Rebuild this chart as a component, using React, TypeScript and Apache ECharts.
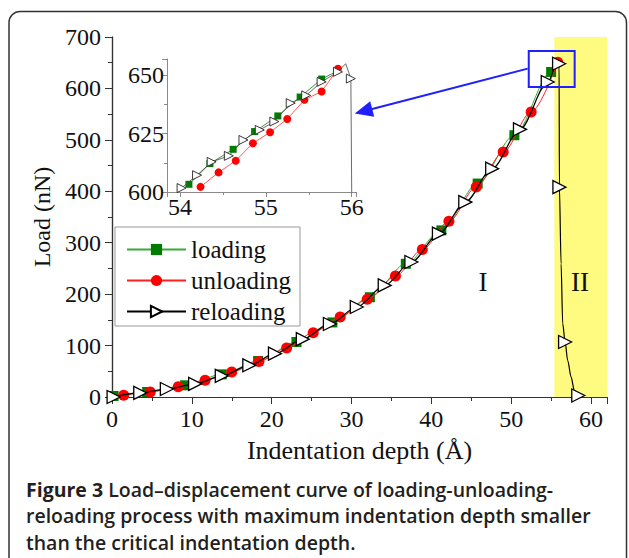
import React, { useEffect, useRef } from "react";
import * as echarts from "echarts";

type Pt = [number, number] | { value: [number, number]; symbol: string };

// Main chart data (x: indentation depth in Å, y: load in nN)
const loadingMain: Pt[] = [
  [0.2, 2], [4.4, 9.7], [9.16, 22.7], [13.75, 44], [18.3, 70], [23.1, 107],
  [27.6, 145], [32.3, 194], [36.8, 259], [41.25, 324], [45.8, 415], [50.4, 509],
  [55.0, 632], { value: [55.85, 652], symbol: "none" },
];
const unloadingMain: Pt[] = [
  [1.46, 3.3], [4.79, 9.7], [8.3, 19.8], [11.66, 32.5], [15.0, 48.6], [18.4, 69],
  [21.87, 95.3], [25.2, 125], [28.58, 155.6], [31.97, 190], [35.5, 235.3],
  [38.87, 286.6], [42.2, 341.6], [45.62, 408.3], [49.0, 476.4], [52.5, 554],
  [55.83, 651],
];
const reloadingMain: Pt[] = [
  [0.2, 0], [3.54, 8], [6.87, 15.5], [10.41, 25.5], [13.75, 41], [17.2, 61.6],
  [20.41, 84.3], [23.9, 112.5], [27.29, 142], [30.66, 175], [34.16, 217],
  [37.5, 262.5], [40.95, 317.7], [44.25, 379], [47.62, 444], [51.1, 520.5],
  [54.58, 612.5], { value: [55.93, 655], symbol: "none" }, [56.0, 648],
  [56.04, 408], { value: [56.25, 259], symbol: "none" },
  { value: [56.45, 143], symbol: "none" }, [56.75, 107],
  { value: [57.08, 71], symbol: "none" }, { value: [57.5, 39], symbol: "none" },
  { value: [57.9, 13], symbol: "none" }, [58.4, 3],
];

// Inset data (zoom of the maximum-load region)
const loadingInset: Pt[] = [
  [54.105, 603.3], [54.35, 612.2], [54.62, 618.3], [54.87, 625.9], [55.14, 632.6],
  [55.4, 640.7], [55.65, 648.4], { value: [55.84, 652], symbol: "none" },
];
const unloadingInset: Pt[] = [
  [54.24, 602.2], [54.45, 608.4], [54.65, 613.4], [54.85, 620.9], [55.05, 625.6],
  [55.25, 631.3], [55.45, 639.5], [55.65, 643.1], [55.84, 652.8],
];
const reloadingInset: Pt[] = [
  [54.02, 601.7], [54.2, 607.2], [54.37, 612.9], [54.57, 615.5], [54.74, 622.3],
  [54.93, 626.6], [55.1, 630.2], [55.29, 638.1], [55.47, 641.4], [55.65, 647.2],
  [55.84, 651.5], { value: [55.93, 655], symbol: "none" }, [55.99, 648.6],
  { value: [56.04, 408], symbol: "none" },
];

const seriesNames = ["loading", "unloading", "reloading"];
const regionLabels = ["I", "II"];
const captionBold = "Figure 3";
const captionLines = [
  " Load–displacement curve of loading-unloading-",
  "reloading process with maximum indentation depth smaller",
  "than the critical indentation depth.",
];

const SERIF = "'Liberation Serif', 'Times New Roman', serif";
const SANS = "'Open Sans', 'Noto Sans', sans-serif";
const AX = "#333";
const INSET_AX = "#8a8a8a";
const BLUE = "#1f1fff";
const CAP = 19.5;

export default function App() {
  const ref = useRef<HTMLDivElement>(null);
  useEffect(() => {
    const chart = echarts.init(ref.current!, null, { renderer: "svg" });
    const mainTickLabel = { fontFamily: SERIF, fontSize: 24, color: "#111" };
    const option: any = {
      animation: false,
      grid: [
        { left: 112, top: 37, width: 495, height: 360 },
        { left: 167, top: 59, width: 189, height: 133 },
      ],
      legend: {
        data: seriesNames,
        orient: "vertical",
        left: 115,
        top: 227,
        itemWidth: 59,
        itemHeight: 14,
        itemGap: 6,
        padding: [10, 9, 2, 11],
        borderColor: "#999",
        borderWidth: 1,
        backgroundColor: "#fff",
        selectedMode: false,
        textStyle: { fontFamily: SERIF, fontSize: 25, color: "#111" },
      },
      xAxis: [
        {
          type: "value", gridIndex: 0, position: "bottom", min: 0, max: 62, interval: 10,
          axisLine: { show: true, lineStyle: { color: AX, width: 1.2 } },
          axisTick: { show: true, length: 7, inside: false, lineStyle: { color: AX } },
          minorTick: { show: true, splitNumber: 2, length: 4, lineStyle: { color: AX } },
          splitLine: { show: false },
          axisLabel: { ...mainTickLabel, margin: 10, showMaxLabel: false },
          name: "Indentation depth (Å)", nameLocation: "middle", nameGap: 40,
          nameTextStyle: { fontFamily: SERIF, fontSize: 26, color: "#111" },
        },
        {
          type: "value", gridIndex: 0, position: "top", min: 0, max: 62, interval: 10,
          axisLine: { show: true, lineStyle: { color: AX, width: 1.2 } },
          axisTick: { show: true, length: 7, inside: true, lineStyle: { color: AX } },
          minorTick: { show: true, splitNumber: 2, length: 4, lineStyle: { color: AX } },
          splitLine: { show: false },
          axisLabel: { show: false },
        },
        {
          type: "value", gridIndex: 1, position: "bottom", min: 53.85, max: 56.05,
          splitNumber: 2, minInterval: 1, maxInterval: 1,
          axisLine: { show: true, lineStyle: { color: INSET_AX } },
          axisTick: { show: true, length: 5, inside: false, lineStyle: { color: INSET_AX } },
          minorTick: { show: true, splitNumber: 2, length: 3, lineStyle: { color: INSET_AX } },
          splitLine: { show: false },
          axisLabel: { ...mainTickLabel, margin: 3, showMinLabel: false, showMaxLabel: false },
        },
      ],
      yAxis: [
        {
          type: "value", gridIndex: 0, position: "left", min: 0, max: 700, interval: 100,
          axisLine: { show: true, lineStyle: { color: AX, width: 1.2 } },
          axisTick: { show: true, length: 7, inside: false, lineStyle: { color: AX } },
          minorTick: { show: true, splitNumber: 2, length: 4, lineStyle: { color: AX } },
          splitLine: { show: false },
          axisLabel: { ...mainTickLabel, margin: 11 },
          name: "Load (nN)", nameLocation: "middle", nameGap: 54, nameRotate: 90,
          nameTextStyle: { fontFamily: SERIF, fontSize: 24, color: "#111" },
        },
        {
          type: "value", gridIndex: 0, position: "right", min: 0, max: 700, interval: 100,
          axisLine: { show: true, lineStyle: { color: AX, width: 1.2 } },
          axisTick: { show: true, length: 7, inside: true, lineStyle: { color: AX } },
          minorTick: { show: true, splitNumber: 2, length: 4, lineStyle: { color: AX } },
          splitLine: { show: false },
          axisLabel: { show: false },
        },
        {
          type: "value", gridIndex: 1, position: "left", min: 600, max: 657, interval: 25,
          axisLine: { show: true, lineStyle: { color: INSET_AX } },
          axisTick: { show: true, length: 5, inside: false, lineStyle: { color: INSET_AX } },
          minorTick: { show: true, splitNumber: 2, length: 3, lineStyle: { color: INSET_AX } },
          splitLine: { show: false },
          axisLabel: { ...mainTickLabel, margin: 3, showMaxLabel: false },
        },
      ],
      series: [
        {
          name: "region", type: "line", xAxisIndex: 0, yAxisIndex: 0, data: [], silent: true,
          markArea: {
            silent: true,
            itemStyle: { color: "#fffb80" },
            data: [[{ xAxis: 55.4 }, { xAxis: 62 }]],
          },
        },
        {
          name: seriesNames[0], type: "line", xAxisIndex: 0, yAxisIndex: 0, z: 2,
          data: loadingMain, smooth: 0.3, smoothMonotone: "x",
          symbol: "rect", symbolSize: 10,
          itemStyle: { color: "#007d00" },
          lineStyle: { color: "#3aa83a", width: 1 },
        },
        {
          name: seriesNames[1], type: "line", xAxisIndex: 0, yAxisIndex: 0, z: 3,
          data: unloadingMain, smooth: 0.3, smoothMonotone: "x",
          symbol: "circle", symbolSize: 11,
          itemStyle: { color: "#ff0000" },
          lineStyle: { color: "#ff2020", width: 1 },
        },
        {
          name: seriesNames[2], type: "line", xAxisIndex: 0, yAxisIndex: 0, z: 4,
          data: reloadingMain, smooth: 0.3, smoothMonotone: "x",
          symbol: "triangle", symbolRotate: -90, symbolSize: 13,
          itemStyle: { color: "#ffffff", borderColor: "#000", borderWidth: 1.3 },
          lineStyle: { color: "#000", width: 1.2 },
        },
        {
          name: "inset-loading", type: "line", xAxisIndex: 2, yAxisIndex: 2, z: 2,
          data: loadingInset, symbol: "rect", symbolSize: 7,
          itemStyle: { color: "#007d00" },
          lineStyle: { color: "#1f6f1f", width: 0.8 },
        },
        {
          name: "inset-unloading", type: "line", xAxisIndex: 2, yAxisIndex: 2, z: 3,
          data: unloadingInset, symbol: "circle", symbolSize: 8,
          itemStyle: { color: "#ff0000" },
          lineStyle: { color: "#ff3030", width: 0.8 },
        },
        {
          name: "inset-reloading", type: "line", xAxisIndex: 2, yAxisIndex: 2, z: 4,
          data: reloadingInset, symbol: "triangle", symbolRotate: -90, symbolSize: 9,
          itemStyle: { color: "#ffffff", borderColor: "#222", borderWidth: 0.9 },
          lineStyle: { color: "#444", width: 0.8 },
        },
        {
          name: "zoom-box", type: "line", xAxisIndex: 0, yAxisIndex: 0, data: [], silent: true, z: 6,
          markArea: {
            silent: true, z: 10,
            itemStyle: { color: "rgba(0,0,0,0)", borderColor: BLUE, borderWidth: 2 },
            data: [[{ coord: [52.2, 603] }, { coord: [57.95, 673] }]],
          },
          markLine: {
            silent: true, z: 10,
            symbol: ["none", "triangle"],
            symbolSize: [16, 18],
            label: { show: false },
            lineStyle: { color: BLUE, width: 2, type: "solid" },
            data: [[{ coord: [52.07, 638.5] }, { coord: [31.5, 555.5] }]],
          },
        },
      ],
      graphic: [
        {
          type: "rect", silent: true, z: 100,
          shape: { x: 9, y: 11.5, width: 617.5, height: 620, r: 11 },
          style: { fill: "none", stroke: "#333", lineWidth: 1.5 },
        },
        {
          type: "text", x: 483, y: 282, z: 100,
          style: { text: regionLabels[0], font: `27px ${SERIF}`, fill: "#111", align: "center", verticalAlign: "middle" },
        },
        {
          type: "text", x: 580, y: 282, z: 100,
          style: { text: regionLabels[1], font: `27px ${SERIF}`, fill: "#111", align: "center", verticalAlign: "middle" },
        },
        {
          type: "text", x: 26, y: 489, z: 100,
          style: {
            text: `{b|${captionBold}}{r|${captionLines[0]}}`,
            verticalAlign: "middle",
            rich: {
              b: { fontFamily: SANS, fontSize: CAP, fontWeight: 700, fill: "#231f20" },
              r: { fontFamily: SANS, fontSize: CAP, fontWeight: 600, fill: "#231f20" },
            },
          },
        },
        {
          type: "text", x: 26, y: 515.7, z: 100,
          style: { text: captionLines[1], fontFamily: SANS, fontSize: CAP, fontWeight: 600, fill: "#231f20", verticalAlign: "middle" },
        },
        {
          type: "text", x: 26, y: 542.4, z: 100,
          style: { text: captionLines[2], fontFamily: SANS, fontSize: CAP, fontWeight: 600, fill: "#231f20", verticalAlign: "middle" },
        },
      ],
    };
    chart.setOption(option);
    return () => chart.dispose();
  }, []);
  return (
    <div
      ref={ref}
      style={{ position: "absolute", left: 0, top: 0, width: 629, height: 558, background: "#fff" }}
    />
  );
}
